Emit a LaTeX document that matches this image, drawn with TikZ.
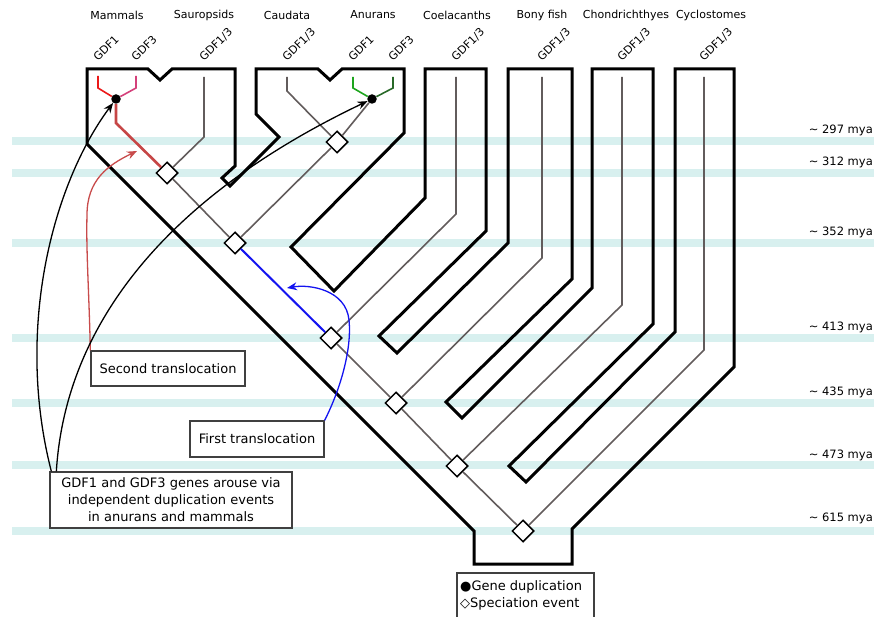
\documentclass[tikz,border=0pt]{standalone}
\usepackage{fontspec}
\setmainfont{DejaVu Sans}
\usetikzlibrary{shapes.geometric,arrows.meta}
\definecolor{bandc}{RGB}{216,240,239}
\definecolor{gline}{RGB}{98,92,92}
\definecolor{mred}{RGB}{198,70,70}
\definecolor{gdfonered}{RGB}{235,25,25}
\definecolor{gdfthreepink}{RGB}{212,64,122}
\definecolor{agreen}{RGB}{30,165,30}
\definecolor{adgreen}{RGB}{40,105,40}
\definecolor{tblue}{RGB}{20,20,240}
\definecolor{boxgray}{RGB}{64,64,64}
\definecolor{arrred}{RGB}{200,75,75}
\begin{document}
\begin{tikzpicture}[x=1pt,y=-1pt,
  bandline/.style={bandc, line width=7.5pt},
  outline/.style={line width=3pt, line join=miter},
  gene/.style={gline, line width=1.6pt},
  spec/.style={diamond, draw=black, fill=white, line width=1.5pt, minimum width=22pt, minimum height=22pt, inner sep=0pt},
  dup/.style={circle, fill=black, minimum size=9.5pt, inner sep=0pt},
  sp/.style={font=\fontsize{11}{13}\selectfont, inner sep=0pt},
  gl/.style={font=\fontsize{11}{13}\selectfont, anchor=base west, rotate=45, inner sep=0pt},
  mya/.style={font=\fontsize{11.5}{13}\selectfont, anchor=east, inner sep=0pt},
  txtbox/.style={draw=boxgray, line width=1.3pt, fill=white, font=\fontsize{13}{17}\selectfont, align=center, inner sep=0pt},
  arr/.style={-{Stealth[length=10pt,width=8pt]}, line width=1.3pt}
]
\useasboundingbox (0,0) rectangle (874,617);

% time bands
\foreach \yy in {141,173,243,338,403,465,531}
  \draw[bandline] (12,\yy) -- (874,\yy);
\node[mya] (t1) at (873,130) {\textasciitilde{} 297 mya};
\node[mya] (t2) at (873,162) {\textasciitilde{} 312 mya};
\node[mya] (t3) at (873,232) {\textasciitilde{} 352 mya};
\node[mya] (t4) at (873,327) {\textasciitilde{} 413 mya};
\node[mya] (t5) at (873,392) {\textasciitilde{} 435 mya};
\node[mya] (t6) at (873,455) {\textasciitilde{} 473 mya};
\node[mya] (t7) at (873,518) {\textasciitilde{} 615 mya};

% species tree outline
\draw[outline] (87,69) -- (148,69) -- (160,80) -- (172,69) -- (235,69) -- (235,166)
  -- (222,178) -- (230,186) -- (279,137) -- (256,114) -- (256,69)
  -- (318,69) -- (330,80) -- (342,69) -- (404,69) -- (404,133)
  -- (291,247) -- (334,291) -- (425,198) -- (425,69)
  -- (486,69) -- (486,231) -- (379,336) -- (397,353) -- (508,243) -- (508,69)
  -- (572,69) -- (572,279) -- (446,402) -- (462,418) -- (592,288) -- (592,69)
  -- (653,69) -- (653,324) -- (509,466) -- (526,482) -- (675,332) -- (675,69)
  -- (734,69) -- (734,367) -- (572,529) -- (572,564) -- (474,564) -- (474,531)
  -- (87,144) -- cycle;

% species labels
\node[sp] (l1) at (117,15) {Mammals};
\node[sp] (l2) at (204,15) {Sauropsids};
\node[sp] (l3) at (287,15) {Caudata};
\node[sp] (l4) at (373,15) {Anurans};
\node[sp] (l5) at (457,15) {Coelacanths};
\node[sp] (l6) at (542,15) {Bony fish};
\node[sp] (l7) at (626,15) {Chondrichthyes};
\node[sp] (l8) at (711,15) {Cyclostomes};

% gene labels
\node[gl] (g1) at (98,62) {GDF1};
\node[gl] (g2) at (136,62) {GDF3};
\node[gl] (g3) at (204,62) {GDF1/3};
\node[gl] (g4) at (287,62) {GDF1/3};
\node[gl] (g5) at (353,62) {GDF1};
\node[gl] (g6) at (393,62) {GDF3};
\node[gl] (g7) at (456,62) {GDF1/3};
\node[gl] (g8) at (542,62) {GDF1/3};
\node[gl] (g9) at (622,62) {GDF1/3};
\node[gl] (g10) at (704,62) {GDF1/3};

% speciation events and duplications
\node[spec] (s1) at (167,173) {};
\node[spec] (s2) at (235,243) {};
\node[spec] (s3) at (337,142) {};
\node[spec] (s4) at (331,338) {};
\node[spec] (s5) at (396,403) {};
\node[spec] (s6) at (457,466) {};
\node[spec] (s7) at (523,531) {};
\node[dup] (md) at (116,99) {};
\node[dup] (ad) at (372,99) {};

% gene tip coordinates
\coordinate (m1) at (98,76);
\coordinate (m3) at (136,76);
\coordinate (sau) at (204,77);
\coordinate (cau) at (287,77);
\coordinate (a1) at (353,77);
\coordinate (a3) at (393,77);
\coordinate (coe) at (456,77);
\coordinate (bon) at (542,77);
\coordinate (cho) at (622,77);
\coordinate (cyc) at (704,77);

% gene tree
\draw[gdfonered, line width=1.6pt] (md) -- (98,88) -- (m1);
\draw[gdfthreepink, line width=1.6pt] (md) -- (136,88) -- (m3);
\draw[mred, line width=2.6pt] (md) -- (116,123) -- (s1);
\draw[agreen, line width=1.6pt] (ad) -- (353,88) -- (a1);
\draw[adgreen, line width=1.6pt] (ad) -- (393,88) -- (a3);
\draw[gene] (s1) -- (204,137) -- (sau);
\draw[gene] (s1) -- (s2);
\draw[gene] (s2) -- (s3);
\draw[gene] (s3) -- (ad);
\draw[gene] (s3) -- (287,91) -- (cau);
\draw[tblue, line width=2pt] (s2) -- (s4);
\draw[gene] (s4) -- (456,214) -- (coe);
\draw[gene] (s4) -- (s5);
\draw[gene] (s5) -- (542,258) -- (bon);
\draw[gene] (s5) -- (s6);
\draw[gene] (s6) -- (622,305) -- (cho);
\draw[gene] (s6) -- (s7);
\draw[gene] (s7) -- (704,350) -- (cyc);

% annotation boxes
\node[txtbox, minimum width=154pt, minimum height=35pt] (sec) at (168,368.5) {Second translocation};
\node[txtbox, minimum width=134pt, minimum height=36pt] (fir) at (257,439) {First translocation};
\node[txtbox, minimum width=242pt, minimum height=56pt] (gdf) at (171,500)
  {GDF1 and GDF3 genes arouse via\\independent duplication events\\in anurans and mammals};

% arrows
\coordinate (redtip) at (137,151);
\coordinate (bluetip) at (287,288);
\draw[arr, arrred] (sec.north west) .. controls (89,290) and (86,250) .. (87,215)
  .. controls (87,180) and (108,165) .. (redtip);
\draw[arr, tblue] (fir.north east) .. controls (340,390) and (352,350) .. (349,320)
  .. controls (346,290) and (310,284) .. (bluetip);
\draw[arr, black] ([xshift=2pt]gdf.north west) .. controls (15,330) and (52,185) .. (md);
\draw[arr, black] ([xshift=7pt]gdf.north west) .. controls (65,330) and (160,200) .. (ad);

% legend
\draw[boxgray, line width=1.3pt] (457,620) -- (457,573) -- (594,573) -- (594,620);
\node[anchor=west, inner sep=0pt, font=\fontsize{13}{17}\selectfont] (lg1) at (460,587) {●Gene duplication};
\node[anchor=west, inner sep=0pt, font=\fontsize{13}{17}\selectfont] (lg2) at (460,604) {◇Speciation event};
\end{tikzpicture}
\end{document}
